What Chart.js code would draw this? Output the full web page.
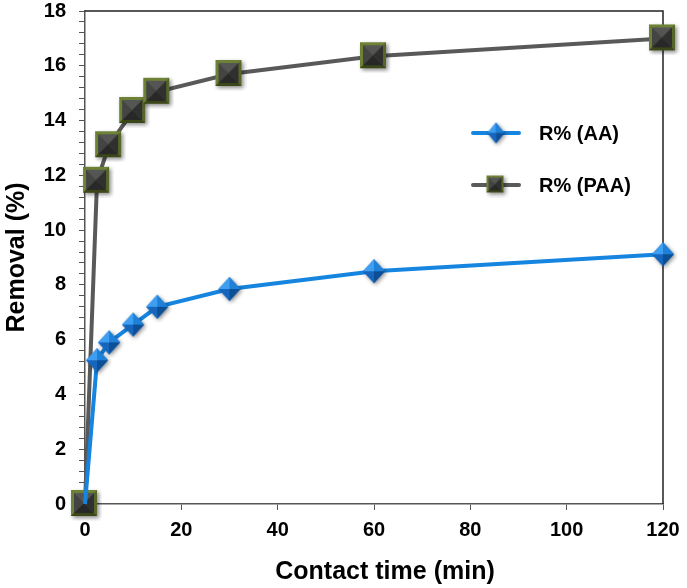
<!DOCTYPE html>
<html>
<head>
<meta charset="utf-8">
<script src="https://cdn.jsdelivr.net/npm/chart.js@4.4.1/dist/chart.umd.min.js"></script>
<style>
  html, body { margin: 0; padding: 0; background: #fff; }
  #wrap { width: 687px; height: 588px; }
</style>
</head>
<body>
<div id="wrap"><canvas id="chart" width="687" height="588"></canvas></div>
<script>
// data
const times = [0, 2.5, 5, 10, 15, 30, 60, 120];
const removalAA = [0, 5.25, 5.9, 6.55, 7.2, 7.85, 8.5, 9.12];
const removalPAA = [0, 11.8, 13.1, 14.35, 15.05, 15.7, 16.35, 17.0];
const seriesNames = ['R% (AA)', 'R% (PAA)'];
const xTitle = 'Contact time (min)';
const yTitle = 'Removal (%)';

const FONT = '"Liberation Sans", Arial, sans-serif';

// shaded markers, drawn once on small canvases
function makeSquare(s) {
  const pad = 4;
  const c = document.createElement('canvas');
  c.width = c.height = s + pad * 2;
  const g = c.getContext('2d');
  const o = pad - 1;
  g.shadowColor = 'rgba(0,0,0,0.45)';
  g.shadowBlur = 4;
  g.shadowOffsetX = 1.5;
  g.shadowOffsetY = 1.5;
  g.fillStyle = '#56662a';
  g.fillRect(o, o, s, s);
  g.shadowColor = 'transparent';
  // olive bevel
  const b = Math.max(2, Math.round(s * 0.13));
  g.fillStyle = '#6e8236';
  g.beginPath(); g.moveTo(o, o); g.lineTo(o + s, o); g.lineTo(o + s - b, o + b); g.lineTo(o + b, o + b); g.closePath(); g.fill();
  g.beginPath(); g.moveTo(o, o); g.lineTo(o + b, o + b); g.lineTo(o + b, o + s - b); g.lineTo(o, o + s); g.closePath(); g.fill();
  g.fillStyle = '#3b4719';
  g.beginPath(); g.moveTo(o + s, o + s); g.lineTo(o, o + s); g.lineTo(o + b, o + s - b); g.lineTo(o + s - b, o + s - b); g.closePath(); g.fill();
  // dark pyramid
  const l = o + b, r = o + s - b, cx = o + s / 2;
  const face = (col, ax, ay, bx, by) => {
    g.fillStyle = col;
    g.beginPath(); g.moveTo(ax, ay); g.lineTo(bx, by); g.lineTo(cx, cx); g.closePath(); g.fill();
  };
  face('#555555', l, l, r, l);
  face('#444444', l, l, l, r);
  face('#303030', r, l, r, r);
  face('#282828', l, r, r, r);
  return c;
}

function makeDiamond(w, h) {
  const pad = 4;
  const c = document.createElement('canvas');
  c.width = w + pad * 2;
  c.height = h + pad * 2;
  const g = c.getContext('2d');
  const cx = c.width / 2, cy = c.height / 2, rx = w / 2, ry = h / 2;
  g.shadowColor = 'rgba(0,0,0,0.45)';
  g.shadowBlur = 4;
  g.shadowOffsetX = 1.5;
  g.shadowOffsetY = 1.5;
  g.fillStyle = '#1a70c8';
  g.beginPath(); g.moveTo(cx, cy - ry); g.lineTo(cx + rx, cy); g.lineTo(cx, cy + ry); g.lineTo(cx - rx, cy); g.closePath(); g.fill();
  g.shadowColor = 'transparent';
  const face = (col, ax, ay, bx, by) => {
    g.fillStyle = col;
    g.beginPath(); g.moveTo(ax, ay); g.lineTo(bx, by); g.lineTo(cx, cy); g.closePath(); g.fill();
  };
  face('#3d9ef2', cx - rx, cy, cx, cy - ry);
  face('#1f80d8', cx, cy - ry, cx + rx, cy);
  face('#0d4f96', cx + rx, cy, cx, cy + ry);
  face('#1766bd', cx, cy + ry, cx - rx, cy);
  return c;
}

const squareImg = makeSquare(26);
const diamondImg = makeDiamond(22, 24);
const squareSmall = makeSquare(17);
const diamondSmall = makeDiamond(17, 21);

const BLUE = '#1585e0';
const GREY = '#595959';

const framePlugin = {
  id: 'frame',
  beforeDatasetsDraw(chart) {
    const { ctx, chartArea: a } = chart;
    ctx.save();
    ctx.strokeStyle = '#222';
    ctx.lineWidth = 1.5;
    ctx.beginPath();
    ctx.moveTo(a.left, a.top);
    ctx.lineTo(a.right, a.top);
    ctx.lineTo(a.right, a.bottom);
    ctx.stroke();
    ctx.restore();
  }
};

const legendPlugin = {
  id: 'insideLegend',
  afterDraw(chart) {
    const { ctx } = chart;
    const items = [
      { name: seriesNames[0], color: BLUE, img: diamondSmall, y: 133 },
      { name: seriesNames[1], color: GREY, img: squareSmall, y: 185 }
    ];
    ctx.save();
    items.forEach(it => {
      ctx.strokeStyle = it.color;
      ctx.lineWidth = 4;
      ctx.lineCap = 'round';
      ctx.beginPath();
      ctx.moveTo(473, it.y);
      ctx.lineTo(519, it.y);
      ctx.stroke();
      ctx.drawImage(it.img, 496 - it.img.width / 2, it.y - it.img.height / 2);
      ctx.fillStyle = '#000';
      ctx.font = 'bold 20px ' + FONT;
      ctx.textAlign = 'left';
      ctx.textBaseline = 'middle';
      ctx.fillText(it.name, 539, it.y + 1);
    });
    // x axis title
    ctx.font = 'bold 25px ' + FONT;
    ctx.textAlign = 'center';
    ctx.fillText(xTitle, 385, 572);
    ctx.restore();
  }
};

const ctx = document.getElementById('chart').getContext('2d');
new Chart(ctx, {
  type: 'line',
  data: {
    datasets: [
      {
        label: seriesNames[0],
        data: times.map((t, i) => ({ x: t, y: removalAA[i] })),
        borderColor: BLUE,
        borderWidth: 4,
        pointStyle: diamondImg,
        pointRadius: (c) => (c.dataIndex === 0 ? 0 : 12),
        tension: 0,
        clip: false,
        order: 0
      },
      {
        label: seriesNames[1],
        data: times.map((t, i) => ({ x: t, y: removalPAA[i] })),
        borderColor: GREY,
        borderWidth: 4,
        pointStyle: squareImg,
        pointRadius: 14,
        tension: 0,
        clip: false,
        order: 1
      }
    ]
  },
  options: {
    responsive: false,
    animation: false,
    devicePixelRatio: 1,
    layout: { autoPadding: false, padding: { top: 11, right: 24, left: 0, bottom: 0 } },
    plugins: {
      legend: { display: false },
      tooltip: { enabled: false }
    },
    scales: {
      x: {
        type: 'linear',
        min: 0,
        max: 120,
        ticks: {
          stepSize: 20,
          color: '#000',
          padding: 8,
          font: { family: FONT, size: 20, weight: 'bold' }
        },
        grid: { drawOnChartArea: false, tickLength: 6, tickColor: '#555', tickWidth: 1 },
        border: { color: '#555', width: 1.5 },
        afterFit(scale) { scale.height = 84; scale.paddingRight = 0; scale.paddingLeft = 0; }
      },
      y: {
        min: 0,
        max: 18,
        ticks: {
          stepSize: 0.4,
          autoSkip: false,
          color: '#000',
          padding: 13,
          font: { family: FONT, size: 20, weight: 'bold' },
          callback(v) {
            const k = v / 2;
            return Math.abs(k - Math.round(k)) < 1e-6 ? String(Math.round(v)) : '';
          }
        },
        grid: { drawOnChartArea: false, tickLength: 6, tickColor: '#555', tickWidth: 1 },
        border: { color: '#555', width: 1.5 },
        title: {
          display: true,
          text: yTitle,
          color: '#000',
          padding: { top: 2, bottom: 0 },
          font: { family: FONT, size: 25, weight: 'bold' }
        },
        afterFit(scale) { scale.width = 85; scale.paddingTop = 0; scale.paddingBottom = 0; }
      }
    }
  },
  plugins: [framePlugin, legendPlugin]
});
</script>
</body>
</html>
